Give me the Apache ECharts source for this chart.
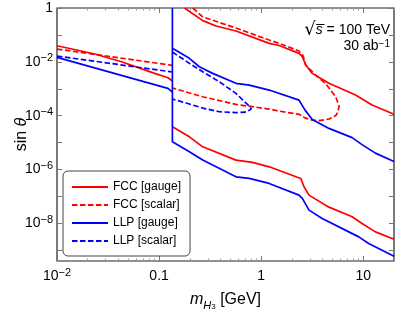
<!DOCTYPE html>
<html><head><meta charset="utf-8">
<script src="https://cdn.jsdelivr.net/npm/echarts@6/dist/echarts.min.js"></script>
<style>html,body{margin:0;padding:0;background:#fff}#c{width:399px;height:311px}</style>
</head><body><div id="c"></div>
<script>
// ---- tick values / labels ----
const xTickValues = [0.01, 0.1, 1, 10];
const xTickLabels = ['10{sup|−2}', '0.1', '1', '10'];
const yTickValues = [1, 1e-1, 1e-2, 1e-3, 1e-4, 1e-5, 1e-6, 1e-7, 1e-8, 1e-9];
const yLabelValues = [1, 1e-2, 1e-4, 1e-6, 1e-8];
const yTickLabels = ['1', '10{sup|−2}', '10{sup|−4}', '10{sup|−6}', '10{sup|−8}'];
const legendNames = ['FCC [gauge]', 'FCC [scalar]', 'LLP [gauge]', 'LLP [scalar]'];

// ---- FCC [gauge] (red solid) ----
const fccGaugeLow = [[0.01,0.0397],[0.0235,0.0195],[0.0428,0.0101],[0.0904,3.73e-3],[0.122,2.56e-3],[0.135,1.95e-3]];
const fccGaugeUpper = [[0.1775,1],[0.2675,0.34],[0.3614,0.214],[0.566,0.1396],[1.197,0.0487],[1.498,0.0404],[2.348,0.0207],[2.53,0.0155],[2.73,7.6e-3],[3.166,3.73e-3],[4.61,1.59e-3],[8.39,5.83e-4],[12.19,2.48e-4],[20,1.13e-4]];
const fccGaugeLower = [[0.135,3.87e-5],[0.198,1.64e-5],[0.2675,6.98e-6],[0.566,2.24e-6],[0.822,1.84e-6],[1.197,1.26e-6],[2.44,4.67e-7],[2.627,2.28e-7],[2.94,1.12e-7],[4.61,4.0e-8],[7.78,1.75e-8],[9.73,9.9e-9],[13.15,4.83e-9],[20,2.56e-9]];

// ---- FCC [scalar] (red dashed) ----
const fccScalarLow = [[0.01,0.0299],[0.135,7.4e-3]];
const fccScalarLoop = [[0.214,1],[0.2675,0.47],[0.566,0.18],[1.197,0.0646],[1.498,0.0487],[2.348,0.0252],[2.57,0.0171],[2.73,7.6e-3],[3.42,3.23e-3],[4.28,1.56e-3],[5.36,5.1e-4],[5.8,2.3e-4],[5.64,1.36e-4],[5.36,1.0e-4],[4.61,7.5e-5],[3.68,6.6e-5],[3.166,6.86e-5],[2.73,8.1e-5],[2.348,1.12e-4],[1.498,1.48e-4],[1.197,1.76e-4],[0.566,2.63e-4],[0.2675,5.04e-4],[0.136,1.06e-3]];

// ---- LLP [gauge] (blue solid) ----
const llpGaugeLow = [[0.01,0.0147],[0.122,1.03e-3],[0.135,7.5e-4]];
const llpGaugeUpper = [[0.135,0.0318],[0.198,0.0135],[0.248,6.57e-3],[0.3347,3.73e-3],[0.566,1.59e-3],[0.764,1.37e-3],[1.197,8.95e-4],[2.348,3.8e-4],[2.455,3.34e-4],[2.69,1.61e-4],[3.166,7.16e-5],[4.61,3.37e-5],[7.78,1.53e-5],[9.73,8.43e-6],[13.15,4.07e-6],[20,1.98e-6]];
const llpGaugeLower = [[0.135,1],[0.135,1.07e-5],[0.198,4.55e-6],[0.2675,2.24e-6],[0.566,5.35e-7],[0.764,4.67e-7],[1.197,3.04e-7],[2.348,1.12e-7],[2.53,8.43e-8],[2.94,3.1e-8],[3.96,1.52e-8],[7.22,4.83e-9],[9.04,3.15e-9],[11.3,1.79e-9],[20,6.0e-10]];

// ---- LLP [scalar] (blue dashed) ----
const llpScalarLow = [[0.01,0.0164],[0.135,4.2e-3]];
const llpScalarLoop = [[0.135,0.0231],[0.198,8.8e-3],[0.2675,4.29e-3],[0.389,1.82e-3],[0.566,6.75e-4],[0.764,2.27e-4],[0.8,1.76e-4],[0.709,1.36e-4],[0.566,1.3e-4],[0.389,1.4e-4],[0.2675,1.92e-4],[0.184,2.95e-4],[0.136,4.1e-4]];

const RED = '#ff0000', BLUE = '#0000ff';
const FONT = 'Liberation Sans, Arial, sans-serif';

function xMinorTicks() {
  const out = [];
  [0.01, 0.1, 1, 10].forEach(d => { for (let k = 2; k <= 9; k++) { const v = +(k * d).toPrecision(3); if (v <= 20) out.push(v); } });
  return out;
}
function nearestIdx(arr, v) {
  let best = 0, bd = Infinity;
  arr.forEach((a, i) => { const d = Math.abs(Math.log10(a) - Math.log10(v)); if (d < bd) { bd = d; best = i; } });
  return best;
}
function mk(name, data, color, dashed) {
  return { name, type: 'line', data, symbol: 'none', showSymbol: false, clip: true, silent: true, legendIcon: 'none',
    lineStyle: { color, width: 1.7, type: dashed ? [5.5, 2.5] : 'solid' }, itemStyle: { color } };
}
const supRich = { sup: { fontSize: 11, lineHeight: 11, verticalAlign: 'top', fontFamily: FONT, color: '#000' } };
const baseX = { type: 'log', logBase: 10, min: 0.01, max: 20, gridIndex: 0, splitLine: { show: false }, axisLine: { show: false } };
const baseY = { type: 'log', logBase: 10, min: 4e-10, max: 1, gridIndex: 0, splitLine: { show: false }, axisLine: { show: false } };

const option = {
  animation: false,
  backgroundColor: '#fff',
  grid: { left: 57, right: 5, top: 8, bottom: 50, containLabel: false, outerBoundsMode: 'none',
    show: true, borderColor: '#222', borderWidth: 1.2, backgroundColor: 'transparent' },
  xAxis: [
    Object.assign({}, baseX, { position: 'bottom',
      name: '{i|m}{sub|H}{sub2|3} [GeV]', nameLocation: 'middle', nameGap: 28, nameMoveOverlap: false,
      nameTextStyle: { fontSize: 16, fontFamily: FONT, color: '#000', lineHeight: 22,
        rich: { i: { fontStyle: 'italic', fontSize: 16, lineHeight: 22, fontFamily: FONT, color: '#000' },
                sub: { fontStyle: 'italic', fontSize: 11, lineHeight: 14, verticalAlign: 'bottom', fontFamily: FONT, color: '#000' },
                sub2: { fontSize: 8, lineHeight: 8, verticalAlign: 'bottom', fontFamily: FONT, color: '#000' } } },
      axisTick: { show: true, inside: true, length: 5, lineStyle: { color: '#777', width: 1 }, customValues: xTickValues },
      axisLabel: { show: true, customValues: xTickValues, margin: 6, fontSize: 14, lineHeight: 18, fontFamily: FONT, color: '#000', rich: supRich,
        align: 'center', alignMinLabel: 'center', alignMaxLabel: 'center',
        formatter: v => xTickLabels[nearestIdx(xTickValues, v)] } }),
    Object.assign({}, baseX, { position: 'bottom',
      axisTick: { show: true, inside: true, length: 2.5, lineStyle: { color: '#999', width: 1 }, customValues: xMinorTicks() },
      axisLabel: { show: false } }),
    Object.assign({}, baseX, { position: 'top',
      axisTick: { show: true, inside: true, length: 5, lineStyle: { color: '#777', width: 1 }, customValues: xTickValues },
      axisLabel: { show: false } }),
    Object.assign({}, baseX, { position: 'top',
      axisTick: { show: true, inside: true, length: 2.5, lineStyle: { color: '#999', width: 1 }, customValues: xMinorTicks() },
      axisLabel: { show: false } })
  ],
  yAxis: [
    Object.assign({}, baseY, { position: 'left',
      name: 'sin {i|θ}', nameLocation: 'middle', nameGap: 27, nameRotate: 90, nameMoveOverlap: false,
      nameTextStyle: { fontSize: 16, fontFamily: FONT, color: '#000',
        rich: { i: { fontStyle: 'italic', fontSize: 16, fontFamily: FONT, color: '#000' } } },
      axisTick: { show: true, inside: true, length: 5, lineStyle: { color: '#777', width: 1 }, customValues: yTickValues },
      axisLabel: { show: true, customValues: yLabelValues, margin: 4, fontSize: 14, lineHeight: 18, fontFamily: FONT, color: '#000', rich: supRich,
        formatter: v => yTickLabels[nearestIdx(yLabelValues, v)] } }),
    Object.assign({}, baseY, { position: 'right',
      axisTick: { show: true, inside: true, length: 5, lineStyle: { color: '#777', width: 1 }, customValues: yTickValues },
      axisLabel: { show: false } })
  ],
  legend: {
    data: legendNames, orient: 'vertical', left: 63, top: 171,
    itemWidth: 36, itemHeight: 14, itemGap: 6,
    itemStyle: { opacity: 0 },
    padding: [10, 9, 9, 8], borderColor: '#444', borderWidth: 1, borderRadius: 5, backgroundColor: '#fff',
    textStyle: { fontSize: 12, fontFamily: FONT, color: '#000' }
  },
  graphic: [
    { type: 'text', right: 9, top: 21, z: 10,
      style: { text: '{r|√}{s|s̅} = 100 TeV', fontSize: 14, fontFamily: FONT, fill: '#000',
        rich: { r: { fontSize: 18, fontFamily: 'DejaVu Sans' }, s: { fontSize: 14, fontStyle: 'italic', fontFamily: FONT } } } },
    { type: 'text', right: 9, top: 39, z: 10,
      style: { text: '30 ab{sup|−1}', fontSize: 14, fontFamily: FONT, fill: '#000',
        rich: { sup: { fontSize: 10, verticalAlign: 'top', lineHeight: 10, fontFamily: FONT } } } }
  ],
  series: [
    mk('FCC [gauge]', fccGaugeLow, RED, false),
    mk('FCC [gauge]', fccGaugeUpper, RED, false),
    mk('FCC [gauge]', fccGaugeLower, RED, false),
    mk('FCC [scalar]', fccScalarLow, RED, true),
    mk('FCC [scalar]', fccScalarLoop, RED, true),
    mk('LLP [gauge]', llpGaugeLow, BLUE, false),
    mk('LLP [gauge]', llpGaugeUpper, BLUE, false),
    mk('LLP [gauge]', llpGaugeLower, BLUE, false),
    mk('LLP [scalar]', llpScalarLow, BLUE, true),
    mk('LLP [scalar]', llpScalarLoop, BLUE, true)
  ]
};
const chart = echarts.init(document.getElementById('c'), null, { renderer: 'canvas' });
chart.setOption(option);
</script></body></html>
